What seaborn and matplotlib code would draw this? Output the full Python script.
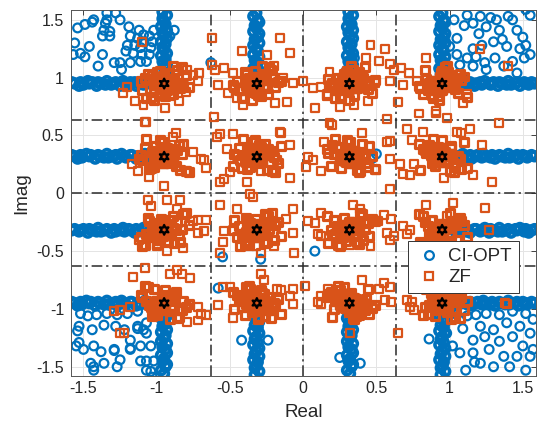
import matplotlib
matplotlib.use("Agg")
import matplotlib.pyplot as plt
from matplotlib.lines import Line2D
import seaborn as sns

# ---------------- data ----------------
ideal_re = [-0.949, -0.316, 0.316, 0.949, -0.949, -0.316, 0.316, 0.949,
            -0.949, -0.316, 0.316, 0.949, -0.949, -0.316, 0.316, 0.949]
ideal_im = [0.949, 0.949, 0.949, 0.949, 0.316, 0.316, 0.316, 0.316,
            -0.316, -0.316, -0.316, -0.316, -0.949, -0.949, -0.949, -0.949]
decision_bounds = [-0.632, 0.0, 0.632]
xticks = [-1.5, -1, -0.5, 0, 0.5, 1, 1.5]
xtick_labels = ["-1.5", "-1", "-0.5", "0", "0.5", "1", "1.5"]
yticks = [-1.5, -1, -0.5, 0, 0.5, 1, 1.5]
ytick_labels = ["-1.5", "-1", "-0.5", "0", "0.5", "1", "1.5"]

# CI-OPT: horizontal outward rays (right/left of outer columns)
ci_hray_re = [
    1.04,1.07,1.08,1.11,1.13,1.14,1.17,1.18,1.21,1.22,1.24,1.27,1.28,1.30,1.33,1.34,1.36,1.39,1.40,1.42,1.45,1.46,1.48,1.51,1.52,1.54,1.56,1.58,
    -1.03,-1.05,-1.08,-1.09,-1.12,-1.14,-1.15,-1.18,-1.19,-1.22,-1.23,-1.25,-1.28,-1.29,-1.31,-1.34,-1.35,-1.38,-1.40,-1.41,-1.44,-1.46,-1.47,-1.50,-1.52,-1.53,-1.56,-1.58,
    1.03,1.05,1.08,1.09,1.12,1.14,1.15,1.18,1.19,1.22,1.23,1.25,1.28,1.29,1.31,1.34,1.35,1.38,1.40,1.41,1.44,1.46,1.47,1.50,1.52,1.53,1.56,1.58,
    -1.04,-1.07,-1.08,-1.11,-1.13,-1.14,-1.17,-1.18,-1.21,-1.22,-1.24,-1.27,-1.28,-1.30,-1.33,-1.34,-1.36,-1.39,-1.40,-1.42,-1.45,-1.46,-1.48,-1.51,-1.52,-1.54,-1.56,-1.58,
    1.04,1.07,1.08,1.11,1.13,1.14,1.17,1.18,1.21,1.22,1.24,1.27,1.28,1.30,1.33,1.34,1.36,1.39,1.40,1.42,1.45,1.46,1.48,1.51,1.52,1.54,1.56,1.58,
    -1.03,-1.05,-1.08,-1.09,-1.12,-1.14,-1.15,-1.18,-1.19,-1.22,-1.23,-1.25,-1.28,-1.29,-1.31,-1.34,-1.35,-1.38,-1.40,-1.41,-1.44,-1.46,-1.47,-1.50,-1.52,-1.53,-1.56,-1.58,
    1.03,1.05,1.08,1.09,1.12,1.14,1.15,1.18,1.19,1.22,1.23,1.25,1.28,1.29,1.31,1.34,1.35,1.38,1.40,1.41,1.44,1.46,1.47,1.50,1.52,1.53,1.56,1.58,
    -1.04,-1.07,-1.08,-1.11,-1.13,-1.14,-1.17,-1.18,-1.21,-1.22,-1.24,-1.27,-1.28,-1.30,-1.33,-1.34,-1.36,-1.39,-1.40,-1.42,-1.45,-1.46,-1.48,-1.51,-1.52,-1.54,-1.56,-1.58,
]
ci_hray_im = [
    0.96,0.94,0.95,0.97,0.94,0.96,0.93,0.95,0.96,0.94,0.97,0.95,0.94,0.96,0.93,0.96,0.95,0.94,0.97,0.94,0.95,0.96,0.93,0.96,0.95,0.94,0.96,0.95,
    0.94,0.96,0.97,0.94,0.95,0.93,0.96,0.96,0.94,0.95,0.97,0.93,0.96,0.95,0.94,0.97,0.94,0.95,0.96,0.93,0.96,0.95,0.97,0.94,0.96,0.93,0.95,0.96,
    0.33,0.31,0.32,0.34,0.31,0.33,0.30,0.32,0.33,0.31,0.34,0.32,0.31,0.33,0.30,0.33,0.32,0.31,0.34,0.31,0.32,0.33,0.30,0.33,0.32,0.31,0.33,0.32,
    0.31,0.33,0.34,0.31,0.32,0.30,0.33,0.33,0.31,0.32,0.34,0.30,0.33,0.32,0.31,0.34,0.31,0.32,0.33,0.30,0.33,0.32,0.34,0.31,0.33,0.30,0.32,0.33,
    -0.33,-0.31,-0.30,-0.33,-0.32,-0.34,-0.31,-0.31,-0.33,-0.32,-0.30,-0.34,-0.31,-0.32,-0.33,-0.30,-0.33,-0.32,-0.31,-0.34,-0.31,-0.32,-0.30,-0.33,-0.31,-0.34,-0.32,-0.31,
    -0.31,-0.33,-0.32,-0.30,-0.33,-0.31,-0.34,-0.32,-0.31,-0.33,-0.30,-0.32,-0.33,-0.31,-0.34,-0.31,-0.32,-0.33,-0.30,-0.33,-0.32,-0.31,-0.34,-0.31,-0.32,-0.33,-0.31,-0.32,
    -0.94,-0.96,-0.95,-0.93,-0.96,-0.94,-0.97,-0.95,-0.94,-0.96,-0.93,-0.95,-0.96,-0.94,-0.97,-0.94,-0.95,-0.96,-0.93,-0.96,-0.95,-0.94,-0.97,-0.94,-0.95,-0.96,-0.94,-0.95,
    -0.96,-0.94,-0.93,-0.96,-0.95,-0.97,-0.94,-0.94,-0.96,-0.95,-0.93,-0.97,-0.94,-0.95,-0.96,-0.93,-0.96,-0.95,-0.94,-0.97,-0.94,-0.95,-0.93,-0.96,-0.94,-0.97,-0.95,-0.94,
]

# CI-OPT: vertical outward rays (above/below outer rows)
ci_vray_re = [
    -0.94,-0.97,-0.95,-0.93,-0.96,-0.94,-0.97,-0.93,-0.95,-0.96,-0.94,-0.97,-0.93,-0.95,-0.96,-0.93,-0.97,-0.94,-0.95,-0.96,-0.93,-0.96,
    -0.33,-0.30,-0.34,-0.32,-0.31,-0.33,-0.30,-0.34,-0.31,-0.32,-0.34,-0.30,-0.33,-0.31,-0.30,-0.34,-0.32,-0.33,-0.30,-0.31,-0.34,-0.32,
    0.33,0.30,0.32,0.34,0.31,0.33,0.30,0.34,0.32,0.31,0.33,0.30,0.34,0.32,0.31,0.34,0.30,0.33,0.32,0.31,0.34,0.31,
    0.94,0.97,0.93,0.95,0.96,0.94,0.97,0.93,0.96,0.95,0.93,0.97,0.94,0.96,0.97,0.93,0.95,0.94,0.97,0.96,0.93,0.95,
    -0.96,-0.93,-0.97,-0.95,-0.94,-0.96,-0.93,-0.97,-0.94,-0.95,-0.97,-0.93,-0.96,-0.94,-0.93,-0.97,-0.95,-0.96,-0.93,-0.94,-0.97,-0.95,
    -0.31,-0.34,-0.32,-0.30,-0.33,-0.31,-0.34,-0.30,-0.32,-0.33,-0.31,-0.34,-0.30,-0.32,-0.33,-0.30,-0.34,-0.31,-0.32,-0.33,-0.30,-0.33,
    0.31,0.34,0.30,0.32,0.33,0.31,0.34,0.30,0.33,0.32,0.30,0.34,0.31,0.33,0.34,0.30,0.32,0.31,0.34,0.33,0.30,0.32,
    0.96,0.93,0.95,0.97,0.94,0.96,0.93,0.97,0.95,0.94,0.96,0.93,0.97,0.95,0.94,0.97,0.93,0.96,0.95,0.94,0.97,0.94,
]
ci_vray_im = [
    1.04,1.06,1.09,1.11,1.14,1.16,1.19,1.21,1.24,1.26,1.29,1.31,1.34,1.36,1.39,1.41,1.44,1.46,1.49,1.51,1.54,1.57,
    1.03,1.06,1.08,1.10,1.13,1.15,1.18,1.20,1.23,1.25,1.28,1.30,1.33,1.35,1.38,1.40,1.43,1.45,1.48,1.50,1.53,1.56,
    1.04,1.06,1.09,1.11,1.14,1.16,1.19,1.21,1.24,1.26,1.29,1.31,1.34,1.36,1.39,1.41,1.44,1.46,1.49,1.51,1.54,1.57,
    1.03,1.06,1.08,1.10,1.13,1.15,1.18,1.20,1.23,1.25,1.28,1.30,1.33,1.35,1.38,1.40,1.43,1.45,1.48,1.50,1.53,1.56,
    -1.03,-1.06,-1.08,-1.10,-1.13,-1.15,-1.18,-1.20,-1.23,-1.25,-1.28,-1.30,-1.33,-1.35,-1.38,-1.40,-1.43,-1.45,-1.48,-1.50,-1.53,-1.56,
    -1.04,-1.06,-1.09,-1.11,-1.14,-1.16,-1.19,-1.21,-1.24,-1.26,-1.29,-1.31,-1.34,-1.36,-1.39,-1.41,-1.44,-1.46,-1.49,-1.51,-1.54,-1.57,
    -1.03,-1.06,-1.08,-1.10,-1.13,-1.15,-1.18,-1.20,-1.23,-1.25,-1.28,-1.30,-1.33,-1.35,-1.38,-1.40,-1.43,-1.45,-1.48,-1.50,-1.53,-1.56,
    -1.04,-1.06,-1.09,-1.11,-1.14,-1.16,-1.19,-1.21,-1.24,-1.26,-1.29,-1.31,-1.34,-1.36,-1.39,-1.41,-1.44,-1.46,-1.49,-1.51,-1.54,-1.57,
]

# CI-OPT: scattered points in the four outer corners + a few strays
ci_spread_re = [
    -1.54,-1.49,-1.44,-1.43,-1.35,-1.34,-1.28,-1.34,-1.36,-1.37,-1.32,-1.32,-1.19,-1.12,-1.18,-1.13,-1.09,-1.05,-1.20,-1.15,-1.11,-1.09,-1.04,-1.21,-1.16,-1.10,-1.05,-1.57,-1.52,-1.49,-1.37,-1.29,-1.25,-1.18,-1.11,-1.24,-1.07,-1.03,-1.02,-0.88,-0.91,-1.56,-1.46,-1.40,-1.25,
    1.03,1.12,1.16,1.21,1.32,1.40,1.43,1.52,1.55,1.25,1.34,1.46,1.05,1.16,1.22,1.30,1.39,1.48,1.52,1.55,1.05,1.12,1.18,1.24,1.31,1.37,1.43,1.51,1.16,1.25,1.46,1.07,1.00,1.20,1.28,1.36,1.10,1.50,
    -1.52,-1.47,-1.41,-1.34,-1.27,-1.20,-1.13,-1.53,-1.44,-1.36,-1.28,-1.22,-1.13,-1.07,-1.09,-1.55,-1.50,-1.43,-1.38,-1.29,-1.18,-1.11,-1.04,-1.45,-1.43,-1.36,-1.25,-1.07,-1.04,-1.53,-1.18,-1.54,-1.29,-1.18,-1.07,-1.13,-1.11,-1.27,-1.43,-1.07,-1.03,-1.02,
    1.05,1.12,1.18,1.25,1.34,1.43,1.52,1.57,1.09,1.21,1.30,1.39,1.48,1.55,1.16,1.24,1.34,1.43,1.50,1.57,1.07,1.16,1.27,1.37,1.46,1.55,1.21,1.30,1.41,1.52,0.98,1.02,0.86,1.11,1.17,
    0.47,0.50,-0.29,-0.55,0.08,-0.58,0.25,0.39,-0.42,-0.24,-0.63,0.35,
]
ci_spread_im = [
    1.43,1.46,1.48,1.50,1.47,1.50,1.56,1.56,1.41,1.36,1.36,1.40,1.44,1.41,1.36,1.34,1.37,1.36,1.28,1.28,1.26,1.31,1.26,1.23,1.21,1.20,1.20,1.20,1.21,1.18,1.20,1.13,1.13,1.13,1.14,1.07,1.14,1.31,1.41,1.41,1.36,1.30,1.27,1.10,1.50,
    1.50,1.54,1.47,1.53,1.50,1.53,1.50,1.59,1.54,1.44,1.41,1.41,1.34,1.25,1.28,1.31,1.27,1.25,1.28,1.20,1.20,1.17,1.18,1.13,1.17,1.10,1.14,1.17,1.10,1.07,1.04,1.11,1.27,1.38,1.52,1.33,1.45,1.35,
    -1.04,-1.06,-1.05,-1.04,-1.05,-1.04,-1.02,-1.15,-1.18,-1.14,-1.15,-1.18,-1.15,-1.12,-1.18,-1.32,-1.35,-1.32,-1.37,-1.35,-1.35,-1.32,-1.32,-1.47,-1.53,-1.47,-1.44,-1.45,-1.54,-1.29,-1.27,-1.19,-1.36,-1.34,-1.21,-1.17,-1.45,-1.50,-1.50,-1.53,-1.59,-1.45,
    -1.05,-1.06,-1.05,-1.04,-1.05,-1.02,-1.04,-1.09,-1.17,-1.15,-1.18,-1.12,-1.15,-1.21,-1.27,-1.24,-1.28,-1.24,-1.32,-1.35,-1.38,-1.38,-1.35,-1.41,-1.41,-1.41,-1.47,-1.50,-1.50,-1.53,-1.21,-1.32,-1.26,-1.53,-1.46,
    0.30,0.34,-0.57,-0.55,-0.50,-0.82,-1.42,-1.47,-1.27,-1.27,1.13,1.17,
]

# ZF: cluster bodies, one list pair per constellation row (4 clusters each)
zf_clu_re_row1 = [
    -0.95,-0.90,-0.99,-0.93,-1.01,-0.87,-1.03,-0.92,-0.97,-0.88,-1.02,-0.85,-1.05,-0.89,-1.00,-0.94,-0.96,-0.84,-1.06,-0.86,-1.04,-0.82,-1.08,-0.91,-0.98,-0.80,-1.10,-0.83,-1.07,-0.78,-1.11,-0.89,-1.02,
    -0.32,-0.27,-0.36,-0.30,-0.38,-0.24,-0.40,-0.29,-0.34,-0.25,-0.39,-0.22,-0.42,-0.26,-0.37,-0.31,-0.33,-0.21,-0.43,-0.23,-0.41,-0.19,-0.45,-0.28,-0.35,-0.17,-0.47,-0.20,-0.44,-0.15,-0.48,-0.26,-0.39,
    0.32,0.37,0.28,0.34,0.26,0.40,0.24,0.35,0.30,0.39,0.25,0.42,0.22,0.38,0.27,0.33,0.31,0.43,0.21,0.41,0.23,0.45,0.19,0.36,0.29,0.47,0.17,0.44,0.20,0.49,0.16,0.38,0.25,
    0.95,1.00,0.91,0.97,0.89,1.03,0.87,0.98,0.93,1.02,0.88,1.05,0.85,1.01,0.90,0.96,0.94,1.06,0.84,1.04,0.86,1.08,0.82,0.99,0.92,1.10,0.80,1.07,0.83,1.12,0.79,1.01,0.88,
]
zf_clu_im_row1 = [
    0.96,0.92,1.00,0.89,0.97,0.94,1.02,1.04,0.87,0.99,0.90,0.95,0.98,0.86,1.05,0.84,1.01,0.91,1.03,1.07,0.83,0.93,1.00,0.85,1.06,1.02,0.89,1.09,0.82,0.92,0.97,1.10,0.81,
    0.87,0.99,0.90,0.95,0.98,0.86,1.05,0.84,1.01,0.91,1.03,1.07,0.83,0.93,1.00,0.85,1.06,1.02,0.89,1.09,0.82,0.92,0.97,1.10,0.81,0.96,0.92,1.00,0.89,0.97,0.94,1.02,1.04,
    1.01,0.91,1.03,1.07,0.83,0.93,1.00,0.85,1.06,1.02,0.89,1.09,0.82,0.92,0.97,1.10,0.81,0.96,0.92,1.00,0.89,0.97,0.94,1.02,1.04,0.87,0.99,0.90,0.95,0.98,0.86,1.05,0.84,
    1.06,1.02,0.89,1.09,0.82,0.92,0.97,1.10,0.81,0.96,0.92,1.00,0.89,0.97,0.94,1.02,1.04,0.87,0.99,0.90,0.95,0.98,0.86,1.05,0.84,1.01,0.91,1.03,1.07,0.83,0.93,1.00,0.85,
]
zf_clu_re_row2 = [
    -0.95,-0.90,-0.99,-0.93,-1.01,-0.87,-1.03,-0.92,-0.97,-0.88,-1.02,-0.85,-1.05,-0.89,-1.00,-0.94,-0.96,-0.84,-1.06,-0.86,-1.04,-0.82,-1.08,-0.91,-0.98,-0.80,-1.10,-0.83,-1.07,-0.78,-1.11,-0.89,-1.02,
    -0.32,-0.27,-0.36,-0.30,-0.38,-0.24,-0.40,-0.29,-0.34,-0.25,-0.39,-0.22,-0.42,-0.26,-0.37,-0.31,-0.33,-0.21,-0.43,-0.23,-0.41,-0.19,-0.45,-0.28,-0.35,-0.17,-0.47,-0.20,-0.44,-0.15,-0.48,-0.26,-0.39,
    0.32,0.37,0.28,0.34,0.26,0.40,0.24,0.35,0.30,0.39,0.25,0.42,0.22,0.38,0.27,0.33,0.31,0.43,0.21,0.41,0.23,0.45,0.19,0.36,0.29,0.47,0.17,0.44,0.20,0.49,0.16,0.38,0.25,
    0.95,1.00,0.91,0.97,0.89,1.03,0.87,0.98,0.93,1.02,0.88,1.05,0.85,1.01,0.90,0.96,0.94,1.06,0.84,1.04,0.86,1.08,0.82,0.99,0.92,1.10,0.80,1.07,0.83,1.12,0.79,1.01,0.88,
]
zf_clu_im_row2 = [
    0.26,0.34,0.31,0.39,0.41,0.24,0.36,0.27,0.32,0.35,0.23,0.42,0.21,0.38,0.28,0.40,0.44,0.20,0.30,0.37,0.22,0.43,0.39,0.26,0.46,0.19,0.29,0.34,0.47,0.18,0.33,0.29,0.37,
    0.32,0.35,0.23,0.42,0.21,0.38,0.28,0.40,0.44,0.20,0.30,0.37,0.22,0.43,0.39,0.26,0.46,0.19,0.29,0.34,0.47,0.18,0.33,0.29,0.37,0.26,0.34,0.31,0.39,0.41,0.24,0.36,0.27,
    0.44,0.20,0.30,0.37,0.22,0.43,0.39,0.26,0.46,0.19,0.29,0.34,0.47,0.18,0.33,0.29,0.37,0.26,0.34,0.31,0.39,0.41,0.24,0.36,0.27,0.32,0.35,0.23,0.42,0.21,0.38,0.28,0.40,
    0.46,0.19,0.29,0.34,0.47,0.18,0.33,0.29,0.37,0.26,0.34,0.31,0.39,0.41,0.24,0.36,0.27,0.32,0.35,0.23,0.42,0.21,0.38,0.28,0.40,0.44,0.20,0.30,0.37,0.22,0.43,0.39,0.26,
]
zf_clu_re_row3 = [
    -0.95,-0.90,-0.99,-0.93,-1.01,-0.87,-1.03,-0.92,-0.97,-0.88,-1.02,-0.85,-1.05,-0.89,-1.00,-0.94,-0.96,-0.84,-1.06,-0.86,-1.04,-0.82,-1.08,-0.91,-0.98,-0.80,-1.10,-0.83,-1.07,-0.78,-1.11,-0.89,-1.02,
    -0.32,-0.27,-0.36,-0.30,-0.38,-0.24,-0.40,-0.29,-0.34,-0.25,-0.39,-0.22,-0.42,-0.26,-0.37,-0.31,-0.33,-0.21,-0.43,-0.23,-0.41,-0.19,-0.45,-0.28,-0.35,-0.17,-0.47,-0.20,-0.44,-0.15,-0.48,-0.26,-0.39,
    0.32,0.37,0.28,0.34,0.26,0.40,0.24,0.35,0.30,0.39,0.25,0.42,0.22,0.38,0.27,0.33,0.31,0.43,0.21,0.41,0.23,0.45,0.19,0.36,0.29,0.47,0.17,0.44,0.20,0.49,0.16,0.38,0.25,
    0.95,1.00,0.91,0.97,0.89,1.03,0.87,0.98,0.93,1.02,0.88,1.05,0.85,1.01,0.90,0.96,0.94,1.06,0.84,1.04,0.86,1.08,0.82,0.99,0.92,1.10,0.80,1.07,0.83,1.12,0.79,1.01,0.88,
]
zf_clu_im_row3 = [
    -0.25,-0.23,-0.40,-0.28,-0.37,-0.32,-0.29,-0.41,-0.22,-0.43,-0.26,-0.36,-0.24,-0.20,-0.44,-0.34,-0.27,-0.42,-0.21,-0.25,-0.38,-0.18,-0.45,-0.35,-0.30,-0.17,-0.46,-0.31,-0.35,-0.27,-0.38,-0.30,-0.33,
    -0.22,-0.43,-0.26,-0.36,-0.24,-0.20,-0.44,-0.34,-0.27,-0.42,-0.21,-0.25,-0.38,-0.18,-0.45,-0.35,-0.30,-0.17,-0.46,-0.31,-0.35,-0.27,-0.38,-0.30,-0.33,-0.25,-0.23,-0.40,-0.28,-0.37,-0.32,-0.29,-0.41,
    -0.27,-0.42,-0.21,-0.25,-0.38,-0.18,-0.45,-0.35,-0.30,-0.17,-0.46,-0.31,-0.35,-0.27,-0.38,-0.30,-0.33,-0.25,-0.23,-0.40,-0.28,-0.37,-0.32,-0.29,-0.41,-0.22,-0.43,-0.26,-0.36,-0.24,-0.20,-0.44,-0.34,
    -0.30,-0.17,-0.46,-0.31,-0.35,-0.27,-0.38,-0.30,-0.33,-0.25,-0.23,-0.40,-0.28,-0.37,-0.32,-0.29,-0.41,-0.22,-0.43,-0.26,-0.36,-0.24,-0.20,-0.44,-0.34,-0.27,-0.42,-0.21,-0.25,-0.38,-0.18,-0.45,-0.35,
]
zf_clu_re_row4 = [
    -0.95,-0.90,-0.99,-0.93,-1.01,-0.87,-1.03,-0.92,-0.97,-0.88,-1.02,-0.85,-1.05,-0.89,-1.00,-0.94,-0.96,-0.84,-1.06,-0.86,-1.04,-0.82,-1.08,-0.91,-0.98,-0.80,-1.10,-0.83,-1.07,-0.78,-1.11,-0.89,-1.02,
    -0.32,-0.27,-0.36,-0.30,-0.38,-0.24,-0.40,-0.29,-0.34,-0.25,-0.39,-0.22,-0.42,-0.26,-0.37,-0.31,-0.33,-0.21,-0.43,-0.23,-0.41,-0.19,-0.45,-0.28,-0.35,-0.17,-0.47,-0.20,-0.44,-0.15,-0.48,-0.26,-0.39,
    0.32,0.37,0.28,0.34,0.26,0.40,0.24,0.35,0.30,0.39,0.25,0.42,0.22,0.38,0.27,0.33,0.31,0.43,0.21,0.41,0.23,0.45,0.19,0.36,0.29,0.47,0.17,0.44,0.20,0.49,0.16,0.38,0.25,
    0.95,1.00,0.91,0.97,0.89,1.03,0.87,0.98,0.93,1.02,0.88,1.05,0.85,1.01,0.90,0.96,0.94,1.06,0.84,1.04,0.86,1.08,0.82,0.99,0.92,1.10,0.80,1.07,0.83,1.12,0.79,1.01,0.88,
]
zf_clu_im_row4 = [
    -0.91,-1.00,-0.95,-0.92,-1.04,-0.85,-1.06,-0.89,-0.99,-0.87,-0.83,-1.07,-0.97,-0.90,-1.05,-0.84,-0.88,-1.01,-0.81,-1.08,-0.98,-0.93,-0.80,-1.09,-0.94,-0.98,-0.90,-1.01,-0.93,-0.96,-0.88,-0.86,-1.03,
    -0.99,-0.87,-0.83,-1.07,-0.97,-0.90,-1.05,-0.84,-0.88,-1.01,-0.81,-1.08,-0.98,-0.93,-0.80,-1.09,-0.94,-0.98,-0.90,-1.01,-0.93,-0.96,-0.88,-0.86,-1.03,-0.91,-1.00,-0.95,-0.92,-1.04,-0.85,-1.06,-0.89,
    -0.88,-1.01,-0.81,-1.08,-0.98,-0.93,-0.80,-1.09,-0.94,-0.98,-0.90,-1.01,-0.93,-0.96,-0.88,-0.86,-1.03,-0.91,-1.00,-0.95,-0.92,-1.04,-0.85,-1.06,-0.89,-0.99,-0.87,-0.83,-1.07,-0.97,-0.90,-1.05,-0.84,
    -0.98,-0.90,-1.01,-0.93,-0.96,-0.88,-0.86,-1.03,-0.91,-1.00,-0.95,-0.92,-1.04,-0.85,-1.06,-0.89,-0.99,-0.87,-0.83,-1.07,-0.97,-0.90,-1.05,-0.84,-0.88,-1.01,-0.81,-1.08,-0.98,-0.93,-0.80,-1.09,-0.94,
]

# ZF: extra points in the dense centre of each of the 16 clusters
zf_core_re = [
    -0.93,-0.98,-0.91,-1.00,-0.89,-0.96,-0.95,-1.01,-0.92,-0.97,
    -0.30,-0.35,-0.28,-0.37,-0.26,-0.33,-0.32,-0.38,-0.29,-0.34,
    0.34,0.29,0.36,0.27,0.38,0.31,0.32,0.26,0.35,0.30,
    0.97,0.92,0.99,0.90,1.01,0.94,0.95,0.89,0.98,0.93,
    -0.93,-0.98,-0.91,-1.00,-0.89,-0.96,-0.95,-1.01,-0.92,-0.97,
    -0.30,-0.35,-0.28,-0.37,-0.26,-0.33,-0.32,-0.38,-0.29,-0.34,
    0.34,0.29,0.36,0.27,0.38,0.31,0.32,0.26,0.35,0.30,
    0.97,0.92,0.99,0.90,1.01,0.94,0.95,0.89,0.98,0.93,
    -0.93,-0.98,-0.91,-1.00,-0.89,-0.96,-0.95,-1.01,-0.92,-0.97,
    -0.30,-0.35,-0.28,-0.37,-0.26,-0.33,-0.32,-0.38,-0.29,-0.34,
    0.34,0.29,0.36,0.27,0.38,0.31,0.32,0.26,0.35,0.30,
    0.97,0.92,0.99,0.90,1.01,0.94,0.95,0.89,0.98,0.93,
    -0.93,-0.98,-0.91,-1.00,-0.89,-0.96,-0.95,-1.01,-0.92,-0.97,
    -0.30,-0.35,-0.28,-0.37,-0.26,-0.33,-0.32,-0.38,-0.29,-0.34,
    0.34,0.29,0.36,0.27,0.38,0.31,0.32,0.26,0.35,0.30,
    0.97,0.92,0.99,0.90,1.01,0.94,0.95,0.89,0.98,0.93,
]
zf_core_im = [
    0.98,0.93,0.91,0.99,0.96,0.90,1.01,0.94,0.95,0.97,
    0.97,0.91,0.98,0.96,0.92,1.00,0.89,0.93,0.99,0.95,
    0.98,0.93,0.91,0.99,0.96,0.90,1.01,0.94,0.95,0.97,
    0.97,0.91,0.98,0.96,0.92,1.00,0.89,0.93,0.99,0.95,
    0.34,0.28,0.35,0.33,0.29,0.37,0.26,0.30,0.36,0.32,
    0.35,0.30,0.28,0.36,0.33,0.27,0.38,0.31,0.32,0.34,
    0.34,0.28,0.35,0.33,0.29,0.37,0.26,0.30,0.36,0.32,
    0.35,0.30,0.28,0.36,0.33,0.27,0.38,0.31,0.32,0.34,
    -0.29,-0.34,-0.36,-0.28,-0.31,-0.37,-0.26,-0.33,-0.32,-0.30,
    -0.30,-0.36,-0.29,-0.31,-0.35,-0.27,-0.38,-0.34,-0.28,-0.32,
    -0.29,-0.34,-0.36,-0.28,-0.31,-0.37,-0.26,-0.33,-0.32,-0.30,
    -0.30,-0.36,-0.29,-0.31,-0.35,-0.27,-0.38,-0.34,-0.28,-0.32,
    -0.93,-0.99,-0.92,-0.94,-0.98,-0.90,-1.01,-0.97,-0.91,-0.95,
    -0.92,-0.97,-0.99,-0.91,-0.94,-1.00,-0.89,-0.96,-0.95,-0.93,
    -0.93,-0.99,-0.92,-0.94,-0.98,-0.90,-1.01,-0.97,-0.91,-0.95,
    -0.92,-0.97,-0.99,-0.91,-0.94,-1.00,-0.89,-0.96,-0.95,-0.93,
]

# ZF: scattered outliers around the clusters, by row
zf_out_re_row1 = [
    -1.23,-1.10,-1.09,-1.07,-0.94,-0.85,-0.75,-0.79,-1.20,-0.72,-1.15,-0.80,
    -0.62,-0.62,-0.54,-0.58,-0.48,-0.51,-0.16,-0.09,-0.07,-0.11,-0.19,-0.42,-0.41,-0.25,-0.71,-0.60,-0.61,-0.45,-0.14,-0.20,
    0.46,0.56,0.52,0.59,0.49,0.59,0.35,0.25,0.08,0.07,0.12,0.18,0.43,0.62,0.67,0.00,0.44,0.16,
    0.84,0.78,0.68,0.65,0.79,0.91,1.09,1.40,1.21,0.98,0.72,1.12,
]
zf_out_im_row1 = [
    0.87,1.31,0.76,0.62,0.74,0.80,1.02,1.07,0.92,0.97,0.80,0.88,
    1.34,1.11,1.08,0.94,1.04,0.87,1.34,1.21,0.95,0.79,0.78,1.23,0.76,1.20,1.04,1.07,0.66,0.82,1.00,1.10,
    1.28,1.25,1.14,1.12,0.95,0.97,0.76,0.75,0.74,0.91,0.92,1.05,1.17,1.07,1.08,0.97,0.80,0.84,
    1.17,0.97,0.94,0.79,0.69,0.71,0.78,1.10,1.25,0.65,1.04,0.86,
]
zf_out_re_row2 = [
    -1.08,-0.87,-0.75,-0.70,-0.66,-1.17,-1.13,-0.95,-0.80,-0.82,-0.89,-0.68,-1.12,-1.05,
    -0.57,-0.48,-0.54,-0.16,-0.09,-0.09,-0.20,-0.29,-0.38,-0.15,-0.18,-0.57,-0.50,-0.34,-0.59,-0.52,
    0.18,0.40,0.59,0.59,0.57,0.07,0.12,0.59,0.20,0.02,0.03,0.57,0.50,0.14,
    0.71,0.82,1.05,1.14,1.22,1.34,1.16,1.29,0.66,0.68,0.73,0.96,0.74,0.91,0.76,1.08,
]
zf_out_im_row2 = [
    0.62,0.52,0.36,0.30,0.22,0.25,0.19,0.06,0.19,0.42,0.49,0.29,0.30,0.14,
    0.51,0.51,0.12,0.53,0.42,0.13,0.20,0.19,0.10,0.52,0.29,0.10,0.18,-0.03,0.49,0.38,
    0.61,0.52,0.45,0.30,0.64,0.29,0.19,0.04,0.59,0.23,0.31,0.44,0.20,0.44,
    0.56,0.53,0.53,0.56,0.42,0.61,0.16,0.10,0.25,0.17,0.16,0.13,0.46,0.69,0.25,0.52,
]
zf_out_re_row3 = [
    -1.04,-0.93,-0.86,-0.84,-0.72,-0.66,-0.68,-0.93,-0.82,-1.00,-1.06,-0.75,-0.72,-1.12,
    -0.57,-0.54,-0.36,-0.32,-0.29,-0.20,-0.07,-0.07,-0.57,-0.45,-0.12,-0.55,
    0.12,0.08,0.12,0.34,0.39,0.51,0.55,0.57,0.59,0.46,0.32,0.03,0.10,-0.06,0.60,0.62,
    0.73,0.84,1.02,1.24,1.27,0.71,0.87,0.98,0.68,1.10,0.80,
]
zf_out_im_row3 = [
    -0.11,-0.06,-0.14,-0.06,-0.23,-0.23,-0.33,-0.50,-0.47,-0.46,-0.06,-0.24,-0.34,-0.40,
    -0.10,-0.33,-0.01,-0.46,-0.52,-0.46,-0.14,-0.34,-0.52,-0.14,-0.22,-0.42,
    -0.17,-0.26,-0.37,-0.10,-0.14,-0.24,-0.19,-0.34,-0.40,-0.46,-0.45,-0.24,-0.35,-0.52,-0.22,-0.37,
    -0.32,-0.10,-0.08,-0.13,-0.32,-0.35,-0.24,-0.20,-0.28,-0.46,-0.45,
]
zf_out_re_row4 = [
    -1.16,-1.08,-0.86,-0.77,-0.72,-0.66,-0.79,-1.25,-1.18,-0.91,-0.83,-0.70,-0.72,-1.25,-1.22,-1.29,
    -0.50,-0.29,-0.27,-0.18,-0.09,-0.07,-0.07,-0.55,-0.15,-0.58,-0.48,
    0.12,0.17,0.12,0.40,0.52,0.59,0.56,0.32,0.65,0.01,0.10,0.60,0.55,
    0.71,0.73,1.39,0.84,0.74,0.76,1.38,0.83,1.12,
]
zf_out_im_row4 = [
    -0.72,-0.65,-0.66,-0.73,-0.98,-1.05,-1.11,-1.21,-0.98,-0.70,-0.70,-1.04,-1.10,-1.01,-1.21,-1.02,
    -0.81,-0.70,-0.75,-0.83,-0.89,-0.83,-0.96,-0.81,-0.84,-0.97,-1.08,
    -0.89,-0.83,-0.96,-0.75,-0.83,-0.81,-0.92,-1.21,-1.21,-0.80,-0.94,-0.94,-0.78,
    -0.92,-0.98,-0.96,-0.81,-0.94,-1.01,-0.95,-0.76,-0.80,
]

# ---------------- assemble ----------------
ci_ray_re = ci_hray_re + ci_vray_re
ci_ray_im = ci_hray_im + ci_vray_im
zf_clu_re = zf_clu_re_row1 + zf_clu_re_row2 + zf_clu_re_row3 + zf_clu_re_row4
zf_clu_im = zf_clu_im_row1 + zf_clu_im_row2 + zf_clu_im_row3 + zf_clu_im_row4
zf_out_re = zf_out_re_row1 + zf_out_re_row2 + zf_out_re_row3 + zf_out_re_row4
zf_out_im = zf_out_im_row1 + zf_out_im_row2 + zf_out_im_row3 + zf_out_im_row4
for a, b, n in [(ci_ray_re, ci_ray_im, "ray"), (ci_spread_re, ci_spread_im, "spread"),
                (zf_clu_re, zf_clu_im, "clu"), (zf_out_re, zf_out_im, "out"),
                (zf_core_re, zf_core_im, "core")]:
    assert len(a) == len(b), (n, len(a), len(b))

BLUE = "#0072BD"
ORANGE = "#D95319"
TXT = "#262626"

sns.set_theme(style="white")
plt.rcParams["font.family"] = ["Liberation Sans", "DejaVu Sans"]
plt.rcParams["axes.unicode_minus"] = False

fig = plt.figure(figsize=(5.49, 4.28), dpi=100)
ax = fig.add_axes([71 / 549, 52 / 428, 465 / 549, 366 / 428])

ax.set_xlim(-1.585, 1.59)
ax.set_ylim(-1.58, 1.585)
ax.set_xticks(xticks)
ax.set_xticklabels(xtick_labels)
ax.set_yticks(yticks)
ax.set_yticklabels(ytick_labels)
ax.grid(True, color="#e4e4e4", linewidth=0.7)
ax.set_axisbelow(True)

for v in decision_bounds:
    ax.axvline(v, color="#2a2a2a", linewidth=1.1, dashes=(7, 2.5, 1.5, 2.5), zorder=1.5)
    ax.axhline(v, color="#2a2a2a", linewidth=1.1, dashes=(7, 2.5, 1.5, 2.5), zorder=1.5)

# CI-OPT (blue circles): dense rays overlap heavily -> heavier ring
sns.scatterplot(x=ci_ray_re, y=ci_ray_im, ax=ax, marker="o", s=40, facecolors="none",
                edgecolor=BLUE, linewidth=2.6, legend=False, zorder=2)
sns.scatterplot(x=ci_spread_re, y=ci_spread_im, ax=ax, marker="o", s=40, facecolors="none",
                edgecolor=BLUE, linewidth=1.6, legend=False, zorder=2)
# ZF (orange squares): dense cluster bodies heavier, outliers normal
sns.scatterplot(x=zf_out_re, y=zf_out_im, ax=ax, marker="s", s=33, facecolors="none",
                edgecolor=ORANGE, linewidth=1.6, legend=False, zorder=3)
sns.scatterplot(x=zf_clu_re, y=zf_clu_im, ax=ax, marker="s", s=33, facecolors="none",
                edgecolor=ORANGE, linewidth=2.3, legend=False, zorder=3)
sns.scatterplot(x=zf_core_re, y=zf_core_im, ax=ax, marker="s", s=33, facecolors="none",
                edgecolor=ORANGE, linewidth=3.2, legend=False, zorder=3)
# ideal constellation points
sns.scatterplot(x=ideal_re, y=ideal_im, ax=ax, marker=(6, 1, 0), s=50, facecolors="none",
                edgecolor="black", linewidth=1.6, legend=False, zorder=4)

ax.tick_params(axis="both", direction="in", length=3.5, width=0.6, top=True, right=True,
               labelsize=11.5, colors=TXT)
ax.tick_params(axis="x", pad=3.5)
ax.tick_params(axis="y", pad=5)
for sp in ax.spines.values():
    sp.set_color("#555555")
    sp.set_linewidth(0.7)

ax.set_xlabel("Real", fontsize=13.5, color=TXT)
ax.set_ylabel("Imag", fontsize=13.5, color=TXT)
ax.xaxis.set_label_coords(0.5, -0.076)
ax.yaxis.set_label_coords(-0.088, 0.5)

handles = [
    Line2D([], [], linestyle="none", marker="o", markersize=6.3, markerfacecolor="none",
           markeredgecolor=BLUE, markeredgewidth=1.6, label="CI-OPT"),
    Line2D([], [], linestyle="none", marker="s", markersize=5.7, markerfacecolor="none",
           markeredgecolor=ORANGE, markeredgewidth=1.6, label="ZF"),
]
leg = ax.legend(handles=handles, loc="upper right", bbox_to_anchor=(0.963, 0.369),
                borderaxespad=0, fontsize=13.5, frameon=True, fancybox=False,
                edgecolor="#333333", framealpha=1, borderpad=0.38, handlelength=1.45,
                handletextpad=0.3, labelspacing=0.2)
leg.get_frame().set_linewidth(0.7)
for t in leg.get_texts():
    t.set_color(TXT)

fig.savefig("out.png", dpi=100)
